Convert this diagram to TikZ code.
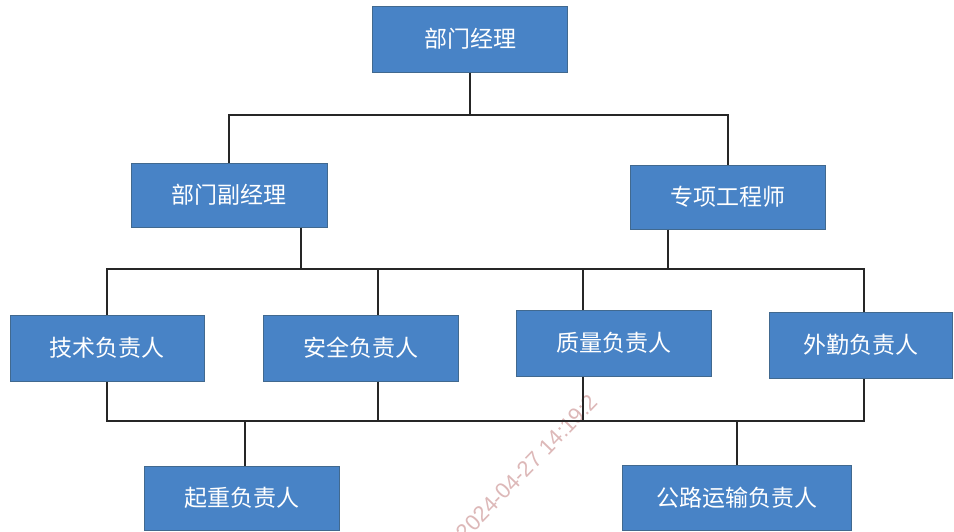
\documentclass[tikz,border=0pt]{standalone}
\usepackage{fontspec}
\setmainfont{Liberation Sans}
\newfontfamily\cjk{Noto Sans CJK SC}
\definecolor{boxfill}{HTML}{4883C6}
\definecolor{boxborder}{HTML}{41698F}
\definecolor{linecol}{HTML}{262626}
\definecolor{wmcol}{HTML}{DDB8B8}
\begin{document}
\begin{tikzpicture}[x=1pt,y=-1pt,
  box/.style={draw=boxborder, line width=1pt, fill=boxfill, text=white,
    font=\cjk\fontsize{23}{26}\selectfont, minimum height=66pt, inner sep=0pt},
  conn/.style={draw=linecol, line width=1.8pt},
  wmark/.style={text=wmcol, font=\fontsize{22}{24}\selectfont, rotate=46}]
\clip (0,0) rectangle (954,531);
\fill[white] (0,0) rectangle (954,531);

\node[wmark] (wm) at (527,467) {2024-04-27 14:19:2};

\coordinate (ya) at (0,115);
\coordinate (yb) at (0,269);
\coordinate (yc) at (0,421);

\node[box, minimum width=195pt] (m) at (470,39) {部门经理};
\node[box, minimum width=196pt, minimum height=64pt] (d) at (229,195) {部门副经理};
\node[box, minimum width=195pt, minimum height=64pt] (z) at (728,197) {专项工程师};
\node[box, minimum width=194pt] (t1) at (107,348) {技术负责人};
\node[box, minimum width=195pt] (t2) at (360.5,348) {安全负责人};
\node[box, minimum width=195pt] (t3) at (613.5,343) {质量负责人};
\node[box, minimum width=183pt] (t4) at (860.5,345) {外勤负责人};
\node[box, minimum width=195pt, minimum height=64pt] (b1) at (241.5,498) {起重负责人};
\node[box, minimum width=229pt, minimum height=65pt] (b2) at (737,497.5) {公路运输负责人};

% level 1 -> level 2
\draw[conn] (m.south) -- (m.south |- ya);
\draw[conn] (d.north) |- (z.north |- ya) -- (z.north);

% level 2 -> bus B
\draw[conn] ([xshift=72pt]d.south) -- ([xshift=72pt]d.south |- yb);
\draw[conn] ([xshift=-60pt]z.south) -- ([xshift=-60pt]z.south |- yb);

% bus B -> level 3
\draw[conn] (t1.north) |- ([xshift=3.5pt]t4.north |- yb) -- ([xshift=3.5pt]t4.north);
\draw[conn] ([xshift=17.5pt]t2.north) -- ([xshift=17.5pt]t2.north |- yb);
\draw[conn] ([xshift=-30.5pt]t3.north) -- ([xshift=-30.5pt]t3.north |- yb);

% level 3 -> bus C
\draw[conn] (t1.south) |- ([xshift=3.5pt]t4.south |- yc) -- ([xshift=3.5pt]t4.south);
\draw[conn] ([xshift=17.5pt]t2.south) -- ([xshift=17.5pt]t2.south |- yc);
\draw[conn] ([xshift=-30.5pt]t3.south) -- ([xshift=-30.5pt]t3.south |- yc);

% bus C -> level 4
\draw[conn] ([xshift=3.5pt]b1.north) -- ([xshift=3.5pt]b1.north |- yc);
\draw[conn] (b2.north) -- (b2.north |- yc);
\end{tikzpicture}
\end{document}
